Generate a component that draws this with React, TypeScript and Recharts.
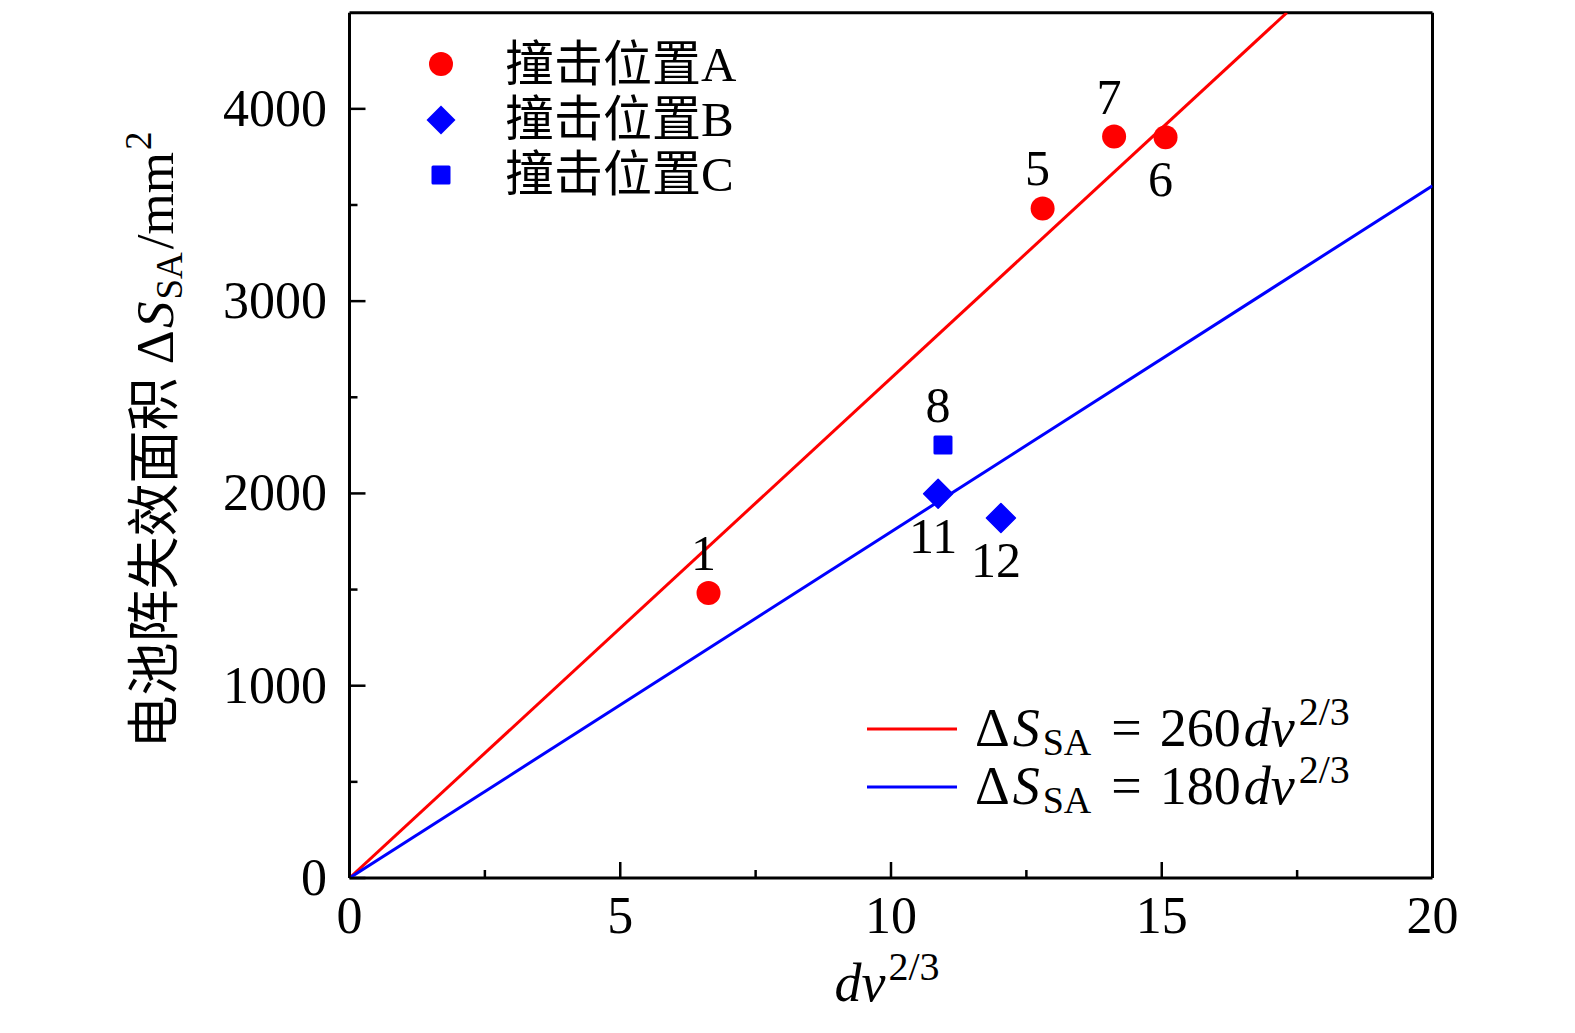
import React from 'react';
import { ScatterChart, Scatter, XAxis, YAxis, ReferenceLine } from 'recharts';

// impact position A / B / C, numbered test cases
const POS_A = [
  { x: 6.63, y: 1482, label: '1' },
  { x: 12.8, y: 3482, label: '5' },
  { x: 15.07, y: 3852, label: '6' },
  { x: 14.12, y: 3856, label: '7' },
];
const POS_B = [
  { x: 10.87, y: 1998, label: '11' },
  { x: 12.03, y: 1872, label: '12' },
];
const POS_C = [{ x: 10.96, y: 2252, label: '8' }];

// fitted lines 260 dv^(2/3) and 180 dv^(2/3)
const FIT_260 = [{ x: 0, y: 0 }, { x: 17.31, y: 4500 }];
const FIT_180 = [{ x: 0, y: 0 }, { x: 20, y: 3600 }];

const X_TICKS = [0, 2.5, 5, 7.5, 10, 12.5, 15, 17.5, 20];
const Y_TICKS = [0, 500, 1000, 1500, 2000, 2500, 3000, 3500, 4000];
const LEGEND_NAMES = ['撞击位置A', '撞击位置B', '撞击位置C'];

const W = 1575;
const H = 1033;
const LEFT = 349.5;
const RIGHT = 1432.5;
const TOP = 12.7;
const BOTTOM = 878;
const RED = '#ff0000';
const BLUE = '#0000ff';
const SERIF = '"Liberation Serif", "Noto Sans CJK SC", serif';
const LABEL_BELOW = ['6', '11', '12'];

const XTick = (props: any) => {
  const { x, payload } = props;
  const major = payload.value % 5 === 0;
  return (
    <g>
      <line x1={x} x2={x} y1={BOTTOM} y2={BOTTOM - (major ? 16 : 8)} stroke="#000" strokeWidth={2.5} />
      {major && (
        <text x={x} y={933} textAnchor="middle" fontSize={52} fontFamily={SERIF} fill="#000">
          {payload.value}
        </text>
      )}
    </g>
  );
};

const YTick = (props: any) => {
  const { y, payload } = props;
  const major = payload.value % 1000 === 0;
  return (
    <g>
      <line x1={LEFT} x2={LEFT + (major ? 16 : 8)} y1={y} y2={y} stroke="#000" strokeWidth={2.5} />
      {major && (
        <text x={327} y={y + 17} textAnchor="end" fontSize={52} fontFamily={SERIF} fill="#000">
          {payload.value}
        </text>
      )}
    </g>
  );
};

const pointLabel = (cx: number, cy: number, label: string) => {
  const below = LABEL_BELOW.includes(label);
  return (
    <text x={cx - 5} y={below ? cy + 59 : cy - 23} textAnchor="middle" fontSize={50} fontFamily={SERIF} fill="#000">
      {label}
    </text>
  );
};

const Circle = (props: any) => (
  <g>
    <circle cx={props.cx} cy={props.cy} r={12} fill={RED} />
    {pointLabel(props.cx, props.cy, props.payload.label)}
  </g>
);

const Diamond = (props: any) => {
  const { cx, cy } = props;
  const r = 14.5;
  return (
    <g>
      <path d={`M${cx},${cy - r}L${cx + r},${cy}L${cx},${cy + r}L${cx - r},${cy}Z`} fill={BLUE} strokeLinejoin="round" stroke={BLUE} strokeWidth={1.5} />
      {pointLabel(cx, cy, props.payload.label)}
    </g>
  );
};

const Square = (props: any) => {
  const { cx, cy } = props;
  return (
    <g>
      <rect x={cx - 9.5} y={cy - 9.5} width={19} height={19} rx={1.5} fill={BLUE} />
      {pointLabel(cx, cy, props.payload.label)}
    </g>
  );
};

const NoDot = () => <g />;

const Formula = ({ y, k }: { y: number; k: string }) => (
  <text x={975} y={y} fontSize={54} fontFamily={SERIF} fill="#000">
    <tspan>Δ</tspan>
    <tspan fontStyle="italic" dx={3}>S</tspan>
    <tspan fontSize={38} dy={9} dx={3}>SA</tspan>
    <tspan dy={-9} dx={20}>=</tspan>
    <tspan dx={18}>{k}</tspan>
    <tspan fontStyle="italic" dx={3}>dv</tspan>
    <tspan fontSize={40} dy={-21} dx={4}>2/3</tspan>
  </text>
);

export default function App() {
  return (
    <div style={{ position: 'absolute', left: 0, top: 0, width: W, height: H, background: '#fff' }}>
      <ScatterChart
        width={W}
        height={H}
        margin={{ top: TOP, right: W - RIGHT, bottom: H - BOTTOM - 60, left: LEFT - 60 }}
      >
        <XAxis
          type="number"
          dataKey="x"
          domain={[0, 20]}
          ticks={X_TICKS}
          interval={0}
          height={60}
          tick={<XTick />}
          tickLine={false}
          axisLine={{ stroke: '#000', strokeWidth: 3 }}
          allowDataOverflow
        />
        <YAxis
          type="number"
          dataKey="y"
          domain={[0, 4500]}
          ticks={Y_TICKS}
          interval={0}
          width={60}
          tick={<YTick />}
          tickLine={false}
          axisLine={{ stroke: '#000', strokeWidth: 3 }}
          allowDataOverflow
        />
        <ReferenceLine x={20} stroke="#000" strokeWidth={3} />
        <ReferenceLine y={4500} stroke="#000" strokeWidth={3} />
        <Scatter data={FIT_260} line={{ stroke: RED, strokeWidth: 3 }} shape={<NoDot />} isAnimationActive={false} />
        <Scatter data={FIT_180} line={{ stroke: BLUE, strokeWidth: 3 }} shape={<NoDot />} isAnimationActive={false} />
        <Scatter data={POS_A} shape={<Circle />} isAnimationActive={false} />
        <Scatter data={POS_B} shape={<Diamond />} isAnimationActive={false} />
        <Scatter data={POS_C} shape={<Square />} isAnimationActive={false} />
      </ScatterChart>
      <svg width={W} height={H} style={{ position: 'absolute', left: 0, top: 0, pointerEvents: 'none' }}>
        {/* legend, top left */}
        <circle cx={441} cy={64} r={12} fill={RED} />
        <path d="M441,105.5L455.5,120L441,134.5L426.5,120Z" fill={BLUE} />
        <rect x={431.5} y={165.5} width={19} height={19} rx={1.5} fill={BLUE} />
        {LEGEND_NAMES.map((name, i) => (
          <text key={name} x={505} y={81 + i * 55} fontSize={49} fontFamily={SERIF} fill="#000">
            {name}
          </text>
        ))}
        {/* fit legend, bottom right */}
        <line x1={867} x2={957} y1={729} y2={729} stroke={RED} strokeWidth={3} />
        <line x1={867} x2={957} y1={787} y2={787} stroke={BLUE} strokeWidth={3} />
        <Formula y={746} k="260" />
        <Formula y={804} k="180" />
        {/* axis titles */}
        <text x={887} y={1001} textAnchor="middle" fontSize={54} fontFamily={SERIF} fill="#000">
          <tspan fontStyle="italic">dv</tspan>
          <tspan fontSize={40} dy={-21} dx={3}>2/3</tspan>
        </text>
        <text
          transform="translate(173,440) rotate(-90)"
          textAnchor="middle"
          fontSize={53}
          fontFamily={SERIF}
          fill="#000"
        >
          <tspan>电池阵失效面积 Δ</tspan>
          <tspan fontStyle="italic" dx={2}>S</tspan>
          <tspan fontSize={37} dy={9} dx={2}>SA</tspan>
          <tspan dy={-9} dx={3}>/mm</tspan>
          <tspan fontSize={37} dy={-22} dx={2}>2</tspan>
        </text>
      </svg>
    </div>
  );
}
